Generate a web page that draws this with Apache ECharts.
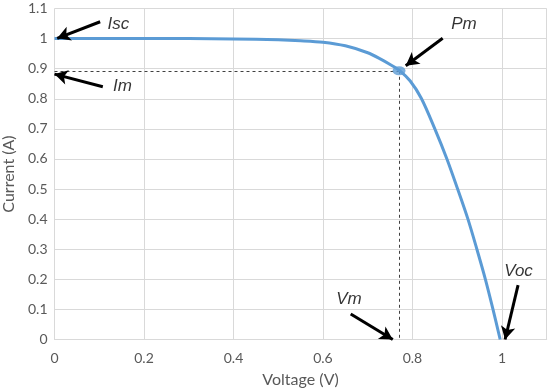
<!DOCTYPE html>
<html>
<head>
<meta charset="utf-8">
<script src="https://cdn.jsdelivr.net/npm/echarts@6/dist/echarts.min.js"></script>
<style>
html,body{margin:0;padding:0;background:#fff;}
#c{width:550px;height:392px;}
</style>
</head>
<body>
<div id="c"></div>
<script>
// I-V curve
var voltage = [0, 0.1, 0.2, 0.3, 0.4, 0.5, 0.55, 0.6, 0.65, 0.7, 0.73, 0.75, 0.772, 0.795, 0.82, 0.85, 0.877, 0.901, 0.924, 0.944, 0.963, 0.98, 0.996];
var current = [1.0, 1.0, 1.0, 1.0, 0.999, 0.996, 0.993, 0.988, 0.976, 0.953, 0.931, 0.914, 0.893, 0.859, 0.801, 0.7, 0.6, 0.5, 0.4, 0.3, 0.2, 0.1, 0.0];
// maximum power point
var pmV = [0.77];
var pmI = [0.893];
// annotation labels and arrows (tail -> head), in data units
var annoNames = ['Isc', 'Im', 'Pm', 'Vm', 'Voc'];
var annoLabelV = [0.143, 0.152, 0.915, 0.658, 1.037];
var annoLabelI = [1.048, 0.840, 1.049, 0.133, 0.228];
var arrowTailV = [0.102, 0.108, 0.8675, 0.662, 1.036];
var arrowTailI = [1.056, 0.840, 1.001, 0.0845, 0.181];
var arrowHeadV = [0.006, 0.0, 0.785, 0.756, 1.007];
var arrowHeadI = [1.001, 0.882, 0.910, 0.0, 0.0];
// axis ticks
var xTicks = [0, 0.2, 0.4, 0.6, 0.8, 1];
var yTicks = [0, 0.1, 0.2, 0.3, 0.4, 0.5, 0.6, 0.7, 0.8, 0.9, 1, 1.1];

var FONT = 'Lato';
var lineData = voltage.map(function (v, i) { return [v, current[i]]; });
var pmData = pmV.map(function (v, i) { return [v, pmI[i]]; });
var labelData = annoNames.map(function (n, i) { return { name: n, value: [annoLabelV[i], annoLabelI[i]] }; });
var arrows = annoNames.map(function (n, i) {
  return [{ coord: [arrowTailV[i], arrowTailI[i]], symbol: 'none' }, { coord: [arrowHeadV[i], arrowHeadI[i]], symbol: 'arrow' }];
});
var guides = [
  [{ coord: [0, pmI[0]] }, { coord: [pmV[0], pmI[0]] }],
  [{ coord: [pmV[0], pmI[0]] }, { coord: [pmV[0], 0] }]
];
function fmt(list) {
  return function (v) { return list.some(function (t) { return Math.abs(t - v) < 1e-9; }) ? String(+v.toFixed(1)) : ''; };
}

var chart = echarts.init(document.getElementById('c'), null, { renderer: 'canvas' });
chart.setOption({
  animation: false,
  backgroundColor: '#ffffff',
  grid: { left: 54.5, right: 3.3, top: 8.5, bottom: 52.5, containLabel: false, outerBoundsMode: 'none' },
  xAxis: {
    type: 'value', min: 0, max: 1.1, interval: 0.2,
    name: 'Voltage (V)', nameLocation: 'middle', nameGap: 32,
    nameTextStyle: { fontFamily: FONT, fontSize: 16, color: '#595959' },
    axisLine: { show: true, lineStyle: { color: '#d9d9d9', width: 1 } },
    axisTick: { show: false },
    axisLabel: { fontFamily: FONT, fontSize: 14, color: '#595959', margin: 12, formatter: fmt(xTicks) },
    splitLine: { show: true, lineStyle: { color: '#d9d9d9', width: 1 } }
  },
  yAxis: {
    type: 'value', min: 0, max: 1.1, interval: 0.1,
    name: 'Current (A)', nameLocation: 'middle', nameGap: 35,
    nameTextStyle: { fontFamily: FONT, fontSize: 16, color: '#595959' },
    axisLine: { show: false },
    axisTick: { show: false },
    axisLabel: { fontFamily: FONT, fontSize: 14, color: '#595959', margin: 7, formatter: fmt(yTicks) },
    splitLine: { show: true, lineStyle: { color: '#d9d9d9', width: 1 } }
  },
  series: [
    {
      type: 'line', data: lineData, smooth: 0.3, showSymbol: false, symbol: 'none',
      lineStyle: { color: '#5b9bd5', width: 3 }, z: 3,
      markLine: {
        silent: true, symbol: 'none', label: { show: false },
        lineStyle: { color: '#404040', type: [3, 3], width: 1 },
        data: guides, z: 2
      }
    },
    {
      type: 'scatter', data: pmData,
      symbol: 'path://M0,10A10,10,0,1,1,20,10A10,10,0,1,1,0,10Z', symbolSize: [13, 9],
      itemStyle: { color: '#5b9bd5' }, z: 4
    },
    {
      type: 'scatter', data: labelData, symbolSize: 0, z: 5,
      label: {
        show: true, position: 'inside', formatter: '{b}',
        fontFamily: 'Liberation Sans', fontStyle: 'italic', fontSize: 17, color: '#000'
      },
      markLine: {
        silent: true, symbol: ['none', 'arrow'], symbolSize: [11, 13],
        label: { show: false },
        lineStyle: { color: '#000', type: 'solid', width: 3 },
        data: arrows
      }
    }
  ]
});
</script>
</body>
</html>
